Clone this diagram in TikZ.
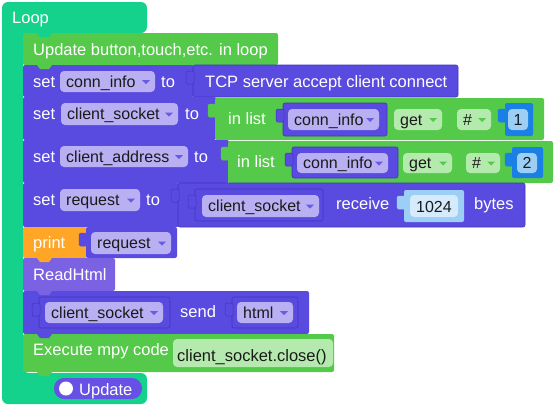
\documentclass[tikz,border=0pt]{standalone}
\usepackage{fontspec}
\setmainfont{Liberation Sans}
\usetikzlibrary{calc}
\definecolor{loopc}{HTML}{14D28B}
\definecolor{grn}{HTML}{55C94A}
\definecolor{pur}{HTML}{5A4BE0}
\definecolor{purd}{HTML}{4234BE}
\definecolor{lav}{HTML}{B8B0F2}
\definecolor{carp}{HTML}{6A5BE3}
\definecolor{lgrn}{HTML}{B5EAAE}
\definecolor{org}{HTML}{FFA626}
\definecolor{rhp}{HTML}{7A62E2}
\definecolor{blu}{HTML}{1A80E6}
\definecolor{lblu}{HTML}{9CCEF6}
\definecolor{vlblu}{HTML}{D5EAFB}
\definecolor{updc}{HTML}{6650E6}
\definecolor{txtd}{HTML}{1A1A1A}
\newcommand\fs{\fontsize{16.5}{19}\selectfont}
\newcommand\fd{\fontsize{16}{19}\selectfont}
% dropdown: name, x1, y1, x2, y2, text, fill, caret colour
\newcommand\ddn[8]{%
  \fill[#7, rounded corners=4pt] (#2,#3) rectangle (#4,#5);
  \node[dlbl] (#1) at (#2+6, {(#3+#5)/2+5.5}) {#6};
  \fill[#8] (#4-13, {(#3+#5)/2-1.5}) -- ++(8,0) -- ++(-4,4) -- cycle;
}
% statement notch: y, colour
\newcommand\notch[2]{\fill[#2] (37,#1) -- (40,#1+4) -- (49,#1+4) -- (52,#1) -- cycle;}
% value tab: x-left edge of block, y top, colour, outline
\newcommand\tab[4]{\fill[#3, draw=#4, line width=0.5pt, rounded corners=1.5pt] (#1-7,#2+6) rectangle (#1+1,#2+19);}
\begin{document}
\begin{tikzpicture}[x=1pt,y=-1pt,
  lbl/.style={anchor=base west, inner sep=0, text=white, font=\fs},
  dlbl/.style={anchor=base west, inner sep=0, text=txtd, font=\fd},
  clbl/.style={anchor=base, inner sep=0, text=txtd, font=\fd},
  blk/.style={rounded corners=2pt},
  vblk/.style={rounded corners=2pt, draw=purd, line width=0.6pt}]
\useasboundingbox (0,0) rectangle (560,410);

% Loop block
\fill[loopc, rounded corners=6pt] (2,2) -- (147,2) -- (147,33) -- (23,33) -- (23,373) -- (147,373) -- (147,404) -- (2,404) -- cycle;
\node[lbl] (loop) at (12,23) {Loop};

% Update block
\fill[grn, blk] (23,33) rectangle (278,65);
\notch{33}{loopc}
\node[lbl] (upd) at (33,55) {Update button,touch,etc. in loop};

% Row 2
\fill[pur, blk] (23,65) rectangle (194,97);
\notch{65}{grn}
\fill[pur, vblk] (193,65) rectangle (458,97);
\tab{193}{65}{pur}{purd}
\node[lbl] (set1) at (33,87) {set};
\ddn{dd1}{60}{71}{155}{92}{conn\_info}{lav}{carp}
\node[lbl] (to1) at (161,87) {to};
\node[lbl] (tcp) at (205,87) {TCP server accept client connect};

% Row 3
\fill[pur, blk] (23,97) rectangle (216,140);
\fill[grn, blk] (215,98) rectangle (544,140);
\tab{215}{98}{grn}{grn}
\node[lbl] (set2) at (33,119) {set};
\ddn{dd2}{61}{103}{178}{125}{client\_socket}{lav}{carp}
\node[lbl] (to2) at (185,119) {to};
\node[lbl] (inl1) at (228,124) {in list};
\fill[pur, vblk] (283,103) rectangle (387,136);
\tab{283}{103}{pur}{purd}
\ddn{dd3}{288}{109}{379}{130}{conn\_info}{lav}{carp}
\ddn{get1}{394}{109}{442}{130}{get}{lgrn}{grn}
\ddn{hash1}{457}{109}{491}{130}{\#}{lgrn}{grn}
\fill[blu, blk] (505,103) rectangle (533,136);
\tab{505}{103}{blu}{blu}
\fill[lblu, rounded corners=4pt] (508,109) rectangle (528,130);
\node[clbl] (one) at (518,125.5) {1};

% Row 4
\fill[pur, blk] (23,140) rectangle (229,183);
\fill[grn, blk] (228,141) rectangle (553,183);
\tab{228}{141}{grn}{grn}
\node[lbl] (set3) at (33,162) {set};
\ddn{dd4}{60}{146}{188}{167}{client\_address}{lav}{carp}
\node[lbl] (to3) at (194,162) {to};
\node[lbl] (inl2) at (237,167) {in list};
\fill[pur, vblk] (292,147) rectangle (398,178);
\tab{292}{147}{pur}{purd}
\ddn{dd5}{297}{153}{388}{173}{conn\_info}{lav}{carp}
\ddn{get2}{403}{153}{452}{173}{get}{lgrn}{grn}
\ddn{hash2}{466}{153}{500}{173}{\#}{lgrn}{grn}
\fill[blu, blk] (512,147) rectangle (543,178);
\tab{512}{147}{blu}{blu}
\fill[lblu, rounded corners=4pt] (517,153) rectangle (537,173);
\node[clbl] (two) at (527,168.5) {2};

% Row 5
\fill[pur, blk] (23,183) rectangle (179,227);
\fill[pur, vblk] (178,183) rectangle (525,227);
\tab{178}{183}{pur}{purd}
\node[lbl] (set4) at (33,205) {set};
\ddn{dd6}{60}{189}{140}{211}{request}{lav}{carp}
\node[lbl] (to4) at (146,205) {to};
\fill[pur, vblk] (195,189) rectangle (323,221);
\tab{195}{189}{pur}{purd}
\ddn{dd7}{202}{195}{319}{217}{client\_socket}{lav}{carp}
\node[lbl] (recv) at (336,209) {receive};
\fill[lblu, blk] (404,190) rectangle (464,222);
\tab{404}{190}{lblu}{lblu}
\fill[vlblu, rounded corners=4pt] (410,195) rectangle (458,217);
\node[clbl] (num) at (434,212) {1024};
\node[lbl] (bytes) at (474,209) {bytes};

% Row 6 print
\fill[org, blk] (23,227) rectangle (87,258);
\fill[pur, blk] (86,227) rectangle (177,258);
\tab{86}{227}{pur}{pur}
\node[lbl] (print) at (33,248) {print};
\ddn{dd8}{91}{232}{171}{254}{request}{lav}{carp}

% Row 7 ReadHtml
\fill[rhp, blk] (23,258) rectangle (115,291);
\notch{258}{org}
\node[lbl] (rh) at (33,280) {ReadHtml};

% Row 8 send
\fill[pur, blk] (23,291) rectangle (309,334);
\notch{291}{rhp}
\fill[pur, vblk] (39,297) rectangle (170,328);
\tab{39}{297}{pur}{purd}
\ddn{dd9}{45}{302}{163}{323}{client\_socket}{lav}{carp}
\node[lbl] (send) at (180,317) {send};
\fill[pur, vblk] (232,297) rectangle (298,328);
\tab{232}{297}{pur}{purd}
\ddn{dd10}{237}{302}{293}{323}{html}{lav}{carp}

% Row 9 execute
\fill[grn, blk] (23,334) rectangle (334,372);
\notch{334}{pur}
\node[lbl] (exe) at (33,355) {Execute mpy code};
\fill[lgrn, rounded corners=4pt] (173,339) rectangle (333,367);
\node[dlbl, font=\fs] (code) at (177,361) {client\_socket.close()};
\notch{372}{grn}

% Update pill
\fill[updc, rounded corners=10pt] (54,378) rectangle (142,399);
\fill[white] (66,388.5) circle (7);
\node[lbl] (updt) at (79,395) {Update};
\end{tikzpicture}
\end{document}
